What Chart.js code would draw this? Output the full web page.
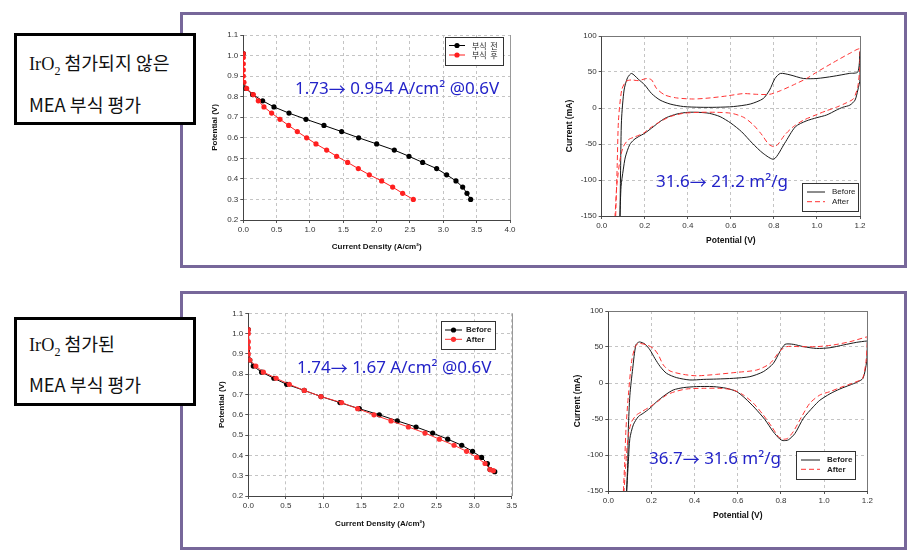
<!DOCTYPE html>
<html>
<head>
<meta charset="utf-8">
<script src="https://cdn.jsdelivr.net/npm/chart.js@4.4.0/dist/chart.umd.min.js"></script>
<style>
body { margin: 0; background: #fff; width: 917px; height: 557px; position: relative; overflow: hidden; font-family: 'Noto Sans CJK KR', sans-serif; }
.frame { position: absolute; border: 3px solid #77679a; box-sizing: border-box; }
.label { position: absolute; background: #fff; border: 3px solid #000; box-sizing: border-box; z-index: 2; }
.label div { position: absolute; left: 12px; font-size: 18.3px; line-height: 22px; white-space: nowrap; color: #111; }
.serif { font-family: 'Liberation Serif', serif; }
canvas { position: absolute; }
</style>
</head>
<body>
<div class="frame" style="left:180px;top:12px;width:727px;height:256px"></div>
<div class="frame" style="left:180px;top:291px;width:727px;height:259px"></div>

<div class="label" style="left:14px;top:33px;width:182px;height:92px">
  <div style="top:15px"><span class="serif">IrO<sub style="font-size:12px">2</sub></span> 첨가되지 않은</div>
  <div style="top:57px">MEA 부식 평가</div>
</div>
<div class="label" style="left:14px;top:317px;width:182px;height:89px">
  <div style="top:12px"><span class="serif">IrO<sub style="font-size:12px">2</sub></span> 첨가된</div>
  <div style="top:53px">MEA 부식 평가</div>
</div>

<canvas id="polA" style="left:200px;top:25px" width="318" height="232"></canvas>
<canvas id="cvA" style="left:550px;top:25px" width="320" height="225"></canvas>
<canvas id="polB" style="left:200px;top:300px" width="320" height="235"></canvas>
<canvas id="cvB" style="left:550px;top:300px" width="325" height="228"></canvas>

<script>
// --- IrO2 없음: 분극 곡선 (A/cm2, V)
const polA_beforeI = [0, 0, 0.04, 0.14, 0.29, 0.46, 0.685, 0.94, 1.21, 1.475, 1.73, 2.0, 2.265, 2.485, 2.69, 2.9, 3.05, 3.19, 3.29, 3.355, 3.41];
const polA_beforeV = [1.01, 0.87, 0.84, 0.81, 0.78, 0.75, 0.72, 0.69, 0.66, 0.63, 0.60, 0.57, 0.54, 0.51, 0.48, 0.45, 0.42, 0.39, 0.36, 0.33, 0.30];
const polA_afterI = [0, 0, 0, 0, 0, 0.01, 0.05, 0.15, 0.225, 0.31, 0.425, 0.55, 0.68, 0.81, 0.95, 1.09, 1.25, 1.40, 1.565, 1.725, 1.89, 2.075, 2.24, 2.39, 2.55];
const polA_afterV = [1.01, 0.99, 0.96, 0.93, 0.90, 0.87, 0.84, 0.81, 0.78, 0.75, 0.72, 0.69, 0.66, 0.63, 0.60, 0.57, 0.54, 0.51, 0.48, 0.45, 0.42, 0.39, 0.36, 0.33, 0.30];

// --- IrO2 첨가: 분극 곡선
const polB_beforeI = [0, 0.02, 0.066, 0.177, 0.34, 0.51, 0.744, 0.966, 1.218, 1.475, 1.741, 1.98, 2.229, 2.45, 2.65, 2.836, 2.98, 3.10, 3.177, 3.212, 3.275];
const polB_beforeV = [1.02, 0.87, 0.84, 0.81, 0.78, 0.75, 0.72, 0.69, 0.66, 0.63, 0.60, 0.57, 0.54, 0.51, 0.48, 0.45, 0.42, 0.39, 0.36, 0.33, 0.32];
const polB_afterI = [0, 0, 0, 0, 0, 0.02, 0.1, 0.2, 0.37, 0.545, 0.744, 0.966, 1.24, 1.453, 1.67, 1.896, 2.127, 2.348, 2.539, 2.734, 2.90, 3.035, 3.146, 3.212, 3.256];
const polB_afterV = [1.02, 1.00, 0.96, 0.93, 0.90, 0.87, 0.84, 0.81, 0.78, 0.75, 0.72, 0.69, 0.66, 0.63, 0.60, 0.57, 0.54, 0.51, 0.48, 0.45, 0.42, 0.39, 0.36, 0.33, 0.325];

// --- IrO2 없음: CV (V, mA), scan order
const cvA_beforeE = [0.085, 0.088, 0.092, 0.104, 0.12, 0.139, 0.17, 0.2, 0.232, 0.271, 0.318, 0.38, 0.457, 0.534, 0.612, 0.69, 0.75, 0.78, 0.805, 0.83, 0.875, 0.937, 1.0, 1.075, 1.15, 1.19, 1.2,
  1.2, 1.19, 1.177, 1.153, 1.12, 1.09, 1.045, 1.0, 0.95, 0.9, 0.85, 0.8, 0.75, 0.7, 0.65, 0.6, 0.55, 0.5, 0.45, 0.4, 0.35, 0.3, 0.27, 0.24, 0.2, 0.17, 0.15, 0.13, 0.11, 0.1, 0.09, 0.085];
const cvA_beforeI = [-150, -80, -17, 25, 42, 48, 40, 32, 20, 11, 5.5, 2, 1, 1, 2, 5.5, 13, 25, 41, 48, 46, 41, 41, 44, 48, 50, 78,
  40, 25, 11, 4, 1, -3, -9.7, -13.4, -18, -26, -49, -71, -63, -49, -33, -21, -12, -7.4, -6, -6, -8.3, -13.4, -19, -26, -35, -40, -44, -51, -68, -86, -109, -150];
const cvA_afterE = [0.065, 0.072, 0.078, 0.093, 0.113, 0.139, 0.17, 0.21, 0.232, 0.255, 0.294, 0.348, 0.426, 0.503, 0.58, 0.658, 0.72, 0.78, 0.83, 0.89, 0.952, 1.0, 1.075, 1.153, 1.2,
  1.2, 1.19, 1.17, 1.138, 1.09, 1.045, 1.0, 0.937, 0.89, 0.85, 0.82, 0.8, 0.775, 0.745, 0.705, 0.66, 0.604, 0.534, 0.457, 0.38, 0.318, 0.271, 0.224, 0.194, 0.155, 0.124, 0.1, 0.085, 0.07, 0.062];
const cvA_afterI = [-150, -80, -17, 25, 37, 39, 38, 41, 39, 27, 18, 14, 12.5, 14, 16.7, 20, 19, 19, 24, 32, 41, 50, 63, 76, 82,
  60, 30, 13, 7.4, 1, -3.7, -9, -17, -26, -37.5, -50, -53.7, -50, -37.5, -23.6, -13, -7.4, -6, -6, -7.4, -12, -19, -28, -35, -40, -44, -54, -72, -109, -150];

// --- IrO2 첨가: CV
const cvB_beforeE = [0.085, 0.09, 0.093, 0.1, 0.113, 0.128, 0.144, 0.17, 0.193, 0.216, 0.24, 0.27, 0.317, 0.378, 0.44, 0.502, 0.579, 0.656, 0.718, 0.764, 0.795, 0.819, 0.857, 0.904, 0.965, 1.027, 1.089, 1.151, 1.197, 1.2,
  1.2, 1.197, 1.18, 1.151, 1.12, 1.073, 1.027, 0.98, 0.95, 0.904, 0.865, 0.834, 0.81, 0.795, 0.764, 0.726, 0.68, 0.633, 0.595, 0.548, 0.486, 0.409, 0.347, 0.301, 0.263, 0.224, 0.193, 0.162, 0.139, 0.116, 0.1, 0.093, 0.085];
const cvB_beforeI = [-150, -110, -63, -17, 20, 53, 57, 54, 46, 34, 23, 13.4, 7.4, 4.2, 5, 5.5, 6.5, 8.8, 15.7, 27, 43.5, 53.7, 53.7, 50.5, 48, 49, 52.8, 56.5, 58.3, 58,
  53, 30, 6.5, 1, -2.8, -8.3, -15, -24, -33, -49, -70, -79, -80, -78, -67.6, -51, -35, -21, -12, -7.4, -5, -5, -6.5, -9.7, -16.7, -26, -35, -42, -46.7, -58, -77, -109, -150];
const cvB_afterE = [0.07, 0.076, 0.082, 0.093, 0.108, 0.124, 0.139, 0.178, 0.209, 0.232, 0.255, 0.286, 0.347, 0.409, 0.502, 0.595, 0.687, 0.749, 0.795, 0.826, 0.888, 0.965, 1.042, 1.12, 1.197, 1.2,
  1.2, 1.194, 1.178, 1.143, 1.073, 1.027, 0.98, 0.934, 0.896, 0.857, 0.83, 0.81, 0.788, 0.757, 0.718, 0.672, 0.626, 0.579, 0.517, 0.44, 0.363, 0.309, 0.27, 0.232, 0.193, 0.154, 0.131, 0.108, 0.093, 0.082, 0.073];
const cvB_afterI = [-150, -110, -63, -17, 30, 50, 55, 52.8, 48, 39, 25, 16.7, 12, 10, 12, 14.8, 18, 27, 44.4, 50.5, 50.5, 50.5, 52.8, 57.4, 64, 64,
  57, 30, 6.5, 1, -6.5, -12, -16.7, -28, -46.7, -67.6, -77, -78, -74.5, -60.6, -44.4, -28, -16.7, -9.7, -7.4, -7.4, -8.3, -12, -16.7, -25, -33, -40, -44.4, -53.7, -72, -109, -150];

const toPts = (xs, ys) => xs.map((x, i) => ({x: x, y: ys[i]}));

const tickFont = {family: 'Liberation Sans', size: 8};

// draws the note; the arrow is taken from the CJK font so it is full width
function drawNote(ctx, note) {
  const parts = note.text.split('→');
  let x = note.x;
  parts.forEach((t, i) => {
    if (i > 0) {
      ctx.font = note.size + 'px "Noto Sans CJK KR"';
      ctx.fillText('→', x, note.y);
      x += ctx.measureText('→').width;
    }
    ctx.font = note.size + 'px "Noto Sans"';
    ctx.fillText(t, x, note.y);
    x += ctx.measureText(t).width;
  });
}

// frame lines, legend box and blue note
const extras = {
  id: 'extras',
  afterDatasetsDraw(chart, args, o) {
    const ctx = chart.ctx;
    const a = chart.chartArea;
    ctx.save();
    // right / top border
    ctx.strokeStyle = o.frameColor;
    ctx.lineWidth = 1;
    ctx.setLineDash([]);
    ctx.beginPath();
    ctx.moveTo(Math.round(a.right) + 0.5, a.top);
    ctx.lineTo(Math.round(a.right) + 0.5, a.bottom);
    if (o.solidTop) {
      ctx.moveTo(a.left, Math.round(a.top) + 0.5);
      ctx.lineTo(a.right, Math.round(a.top) + 0.5);
    }
    ctx.stroke();

    // legend
    const lg = o.legend;
    ctx.fillStyle = '#fff';
    ctx.fillRect(lg.x, lg.y, lg.w, lg.h);
    ctx.strokeStyle = '#333';
    ctx.strokeRect(Math.round(lg.x) + 0.5, Math.round(lg.y) + 0.5, lg.w, lg.h);
    chart.data.datasets.forEach((ds, i) => {
      const y = lg.y + lg.row0 + i * lg.rowGap;
      ctx.strokeStyle = ds.borderColor;
      ctx.lineWidth = 1;
      ctx.setLineDash(ds.borderDash || []);
      ctx.beginPath();
      ctx.moveTo(lg.x + lg.lx0, y);
      ctx.lineTo(lg.x + lg.lx1, y);
      ctx.stroke();
      ctx.setLineDash([]);
      if (ds.pointRadius) {
        ctx.fillStyle = ds.backgroundColor;
        ctx.beginPath();
        ctx.arc(lg.x + (lg.lx0 + lg.lx1) / 2, y, 2.6, 0, Math.PI * 2);
        ctx.fill();
      }
      ctx.fillStyle = '#222';
      ctx.font = lg.font;
      ctx.textBaseline = 'middle';
      ctx.textAlign = 'left';
      ctx.fillText(ds.label, lg.x + lg.tx, y);
    });

    // blue note
    ctx.fillStyle = '#2323c8';
    ctx.textBaseline = 'middle';
    drawNote(ctx, o.note);
    ctx.restore();
  }
};

function axis(cfg) {
  return {
    type: 'linear',
    min: cfg.min,
    max: cfg.max,
    afterFit: s => { if (cfg.width) s.width = cfg.width; if (cfg.height) s.height = cfg.height; },
    ticks: {
      stepSize: cfg.step,
      font: tickFont,
      color: '#333',
      padding: 2,
      maxRotation: 0,
      callback: cfg.fmt
    },
    grid: {color: '#c4c4c4', lineWidth: 1, tickLength: 3, tickColor: '#555'},
    border: {color: '#444', width: 1, dash: [3, 3]},
    title: {
      display: true,
      text: cfg.title,
      color: '#111',
      font: {family: 'Liberation Sans', size: cfg.titleSize, weight: 'bold'},
      padding: {top: cfg.titlePad, bottom: cfg.titlePad}
    }
  };
}

function buildChart(id, datasets, p) {
  return new Chart(document.getElementById(id), {
    type: 'scatter',
    data: {datasets: datasets},
    options: {
      responsive: false,
      animation: false,
      events: [],
      layout: {padding: p.padding},
      plugins: {legend: {display: false}, tooltip: {enabled: false}, extras: p.extras},
      scales: {x: axis(p.x), y: axis(p.y)}
    },
    plugins: [extras]
  });
}

const one = v => v.toFixed(1);
const whole = v => String(v);

function polSet(label, xs, ys, color, order) {
  return {label: label, data: toPts(xs, ys), showLine: true, borderColor: color, backgroundColor: color,
    borderWidth: 1, pointRadius: 2.6, pointBorderWidth: 0, tension: 0, order: order};
}
function cvSet(label, xs, ys, color, dash, order) {
  return {label: label, data: toPts(xs, ys), showLine: true, borderColor: color, borderDash: dash,
    borderWidth: 1, pointRadius: 0, tension: 0.25, order: order};
}

buildChart('polA', [
  polSet('부식  전', polA_beforeI, polA_beforeV, '#000', 2),
  polSet('부식  후', polA_afterI, polA_afterV, '#ff1f1f', 1)
], {
  padding: {left: 0, top: 10, right: 8, bottom: 0},
  x: {min: 0, max: 4, step: 0.5, fmt: one, title: 'Current Density (A/cm²)', titleSize: 8, titlePad: 5.5, height: 37},
  y: {min: 0.2, max: 1.1, step: 0.1, fmt: one, title: 'Potential (V)', titleSize: 8, titlePad: 10.2, width: 43.3},
  extras: {
    frameColor: '#999', solidTop: false,
    legend: {x: 245, y: 12, w: 58, h: 28, row0: 8.5, rowGap: 9.5, lx0: 4, lx1: 20, tx: 27, font: '8px "Noto Sans CJK KR"'},
    note: {text: '1.73→ 0.954 A/cm² @0.6V', x: 95, y: 64.5, size: 17}
  }
});

buildChart('cvA', [
  cvSet('Before', cvA_beforeE, cvA_beforeI, '#1a1a1a', [], 2),
  cvSet('After', cvA_afterE, cvA_afterI, '#ff3333', [5, 3], 1)
], {
  padding: {left: 0, top: 11, right: 10, bottom: 0},
  x: {min: 0, max: 1.2, step: 0.2, fmt: one, title: 'Potential (V)', titleSize: 8.5, titlePad: 3.9, height: 34},
  y: {min: -150, max: 100, step: 50, fmt: whole, title: 'Current (mA)', titleSize: 8.5, titlePad: 14.9, width: 51.7},
  extras: {
    frameColor: '#777', solidTop: true,
    legend: {x: 252, y: 158, w: 56, h: 28, row0: 9, rowGap: 9.7, lx0: 5, lx1: 23, tx: 30, font: '8px "Liberation Sans"'},
    note: {text: '31.6→ 21.2 m²/g', x: 106, y: 157.5, size: 17}
  }
});

buildChart('polB', [
  polSet('Before', polB_beforeI, polB_beforeV, '#000', 2),
  polSet('After', polB_afterI, polB_afterV, '#ff3030', 1)
], {
  padding: {left: 0, top: 13.3, right: 8.3, bottom: 0},
  x: {min: 0, max: 3.5, step: 0.5, fmt: one, title: 'Current Density (A/cm²)', titleSize: 8, titlePad: 6.9, height: 39},
  y: {min: 0.2, max: 1.1, step: 0.1, fmt: one, title: 'Potential (V)', titleSize: 8, titlePad: 16.9, width: 48.3},
  extras: {
    frameColor: '#999', solidTop: false,
    legend: {x: 241, y: 21, w: 54, h: 28, row0: 9, rowGap: 9.3, lx0: 4, lx1: 21, tx: 25, font: 'bold 8px "Liberation Sans"'},
    note: {text: '1.74→ 1.67 A/cm² @0.6V', x: 97, y: 68.5, size: 17}
  }
});

buildChart('cvB', [
  cvSet('Before', cvB_beforeE, cvB_beforeI, '#1a1a1a', [], 2),
  cvSet('After', cvB_afterE, cvB_afterI, '#ff3333', [5, 3], 1)
], {
  padding: {left: 0, top: 11, right: 7.7, bottom: 0},
  x: {min: 0, max: 1.2, step: 0.2, fmt: one, title: 'Potential (V)', titleSize: 8.5, titlePad: 6.9, height: 37},
  y: {min: -150, max: 100, step: 50, fmt: whole, title: 'Current (mA)', titleSize: 8.5, titlePad: 22.9, width: 58.3},
  extras: {
    frameColor: '#777', solidTop: true,
    legend: {x: 246, y: 151, w: 59, h: 28, row0: 9, rowGap: 9.3, lx0: 5, lx1: 24, tx: 31, font: 'bold 8px "Liberation Sans"'},
    note: {text: '36.7→ 31.6 m²/g', x: 99, y: 159.5, size: 17}
  }
});
</script>
</body>
</html>
